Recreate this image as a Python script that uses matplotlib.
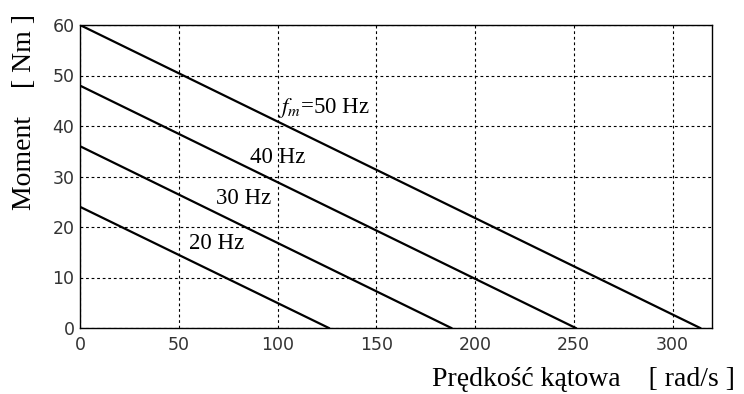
import matplotlib.pyplot as plt

# torque-speed characteristics for several supply frequencies
freqs = ['50', '40', '30', '20']
omega_end = [314, 251, 188, 126]     # rad/s where torque reaches 0
torque_start = [60, 48, 36, 24]      # Nm at omega = 0

labels = ['$\\mathit{f_m}$=50 Hz', '40 Hz', '30 Hz', '20 Hz']
label_xy = [(100, 43.5), (86, 33.8), (69, 25.6), (55, 16.7)]

xticks = [0, 50, 100, 150, 200, 250, 300]
yticks = [0, 10, 20, 30, 40, 50, 60]

fig = plt.figure(figsize=(7.44, 3.94), dpi=100)
ax = fig.add_axes([80/744, 1-328/394, 632/744, 303/394])

for w, t in zip(omega_end, torque_start):
    ax.plot([0, w], [t, 0], color='black', lw=1.6)

for lab, (x, y) in zip(labels, label_xy):
    ax.text(x, y, lab, fontsize=16.5, family='Liberation Serif',
            va='center', ha='left', math_fontfamily='stix')

ax.set_xlim(0, 320)
ax.set_ylim(0, 60)
ax.set_xticks(xticks)
ax.set_yticks(yticks)
ax.grid(True, color='black', linestyle=(0, (2.5, 2.5)), lw=0.8)
ax.tick_params(direction='in', length=0, labelsize=12.5, colors='#333333')
ax.tick_params(axis='x', pad=6)
ax.tick_params(axis='y', pad=4)
for s in ax.spines.values():
    s.set_linewidth(1.0)
    s.set_color('black')

fig.text(25/744, 1-112/394, 'Moment    [ Nm ]', rotation=90, ha='center', va='center',
         fontsize=20, family='Liberation Serif')
fig.text(735/744, 1-386/394, 'Prędkość kątowa    [ rad/s ]', ha='right', va='baseline',
         fontsize=20, family='Liberation Serif')

fig.savefig('out.png', dpi=100)
